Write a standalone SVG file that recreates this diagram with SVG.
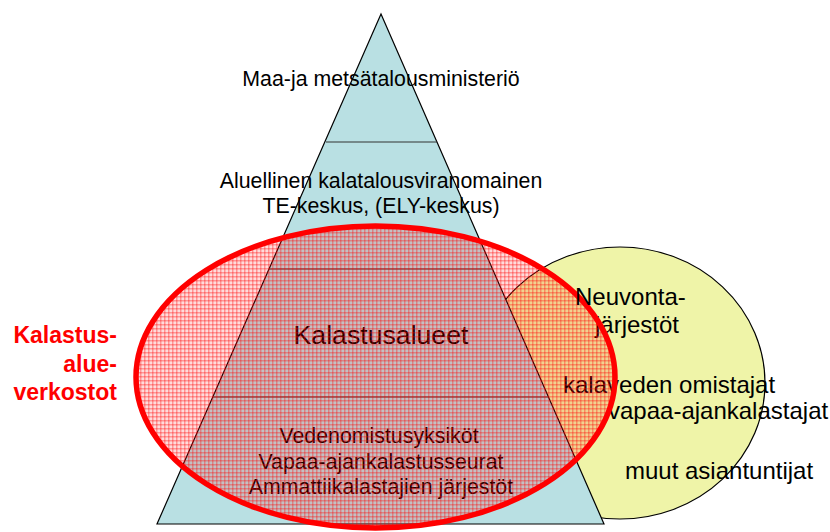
<svg xmlns="http://www.w3.org/2000/svg" width="830" height="532" viewBox="0 0 830 532">
  <defs>
    <pattern id="grid" width="4" height="4" patternUnits="userSpaceOnUse">
      <rect x="0" y="0" width="4" height="4" fill="#ff0000" fill-opacity="0.14"/>
      <rect x="0" y="0" width="4" height="1.5" fill="#ff0000" fill-opacity="0.32"/>
      <rect x="0" y="0" width="1.5" height="4" fill="#ff0000" fill-opacity="0.32"/>
    </pattern>
  </defs>
  <style>
    .t { font-family: "Liberation Sans", Arial, sans-serif; fill: #000; }
    .p { font-size: 21.33px; text-anchor: middle; }
    .c { font-size: 24px; }
    .div { stroke: #333; stroke-width: 1.2; fill: none; }
  </style>
  <rect x="0" y="0" width="830" height="532" fill="#ffffff"/>

  <g id="yellow-circle">
    <ellipse cx="620" cy="383" rx="145" ry="136" fill="#eff4a8" stroke="#000" stroke-width="1.2"/>
  </g>

  <g id="pyramid">
    <polygon points="381,14 604,524 157,524" fill="#b9e0e3" stroke="#000" stroke-width="1.2"/>
    <line class="div" x1="326" y1="142" x2="437" y2="142"/>
    <line class="div" x1="269" y1="269" x2="493" y2="269"/>
    <line class="div" x1="213" y1="397" x2="548" y2="397"/>
  </g>

  <g id="level1">
    <text class="t p" x="381" y="86">Maa-ja metsätalousministeriö</text>
  </g>
  <g id="level2">
    <text class="t p" x="381" y="188">Aluellinen kalatalousviranomainen</text>
    <text class="t p" x="381" y="213">TE-keskus, (ELY-keskus)</text>
  </g>
  <g id="level3">
    <text class="t" x="381" y="344" font-size="26.67" text-anchor="middle">Kalastusalueet</text>
  </g>
  <g id="level4">
    <text class="t p" x="379" y="443">Vedenomistusyksiköt</text>
    <text class="t p" x="381" y="468.5">Vapaa-ajankalastusseurat</text>
    <text class="t p" x="381" y="494">Ammattiikalastajien järjestöt</text>
  </g>

  <g id="circle-texts">
    <text class="t c" x="595" y="333">järjestöt</text>
    <text class="t c" x="563" y="393">kalaveden omistajat</text>
    <text class="t c" x="608" y="419">vapaa-ajankalastajat</text>
    <text class="t c" x="625" y="479">muut asiantuntijat</text>
  </g>

  <g id="kalastusalueverkostot">
    <ellipse cx="375.5" cy="377" rx="239.5" ry="151" fill="url(#grid)" stroke="#ff0000" stroke-width="5.5"/>
  </g>

  <g id="neuvonta">
    <text class="t c" x="575" y="305">Neuvonta-</text>
  </g>

  <g id="label">
    <text x="117" y="343" font-family="'Liberation Sans', Arial, sans-serif" font-weight="bold" font-size="23" fill="#ff0000" text-anchor="end">Kalastus-</text>
    <text x="117" y="372" font-family="'Liberation Sans', Arial, sans-serif" font-weight="bold" font-size="23" fill="#ff0000" text-anchor="end">alue-</text>
    <text x="117" y="400" font-family="'Liberation Sans', Arial, sans-serif" font-weight="bold" font-size="23" fill="#ff0000" text-anchor="end">verkostot</text>
  </g>
</svg>
